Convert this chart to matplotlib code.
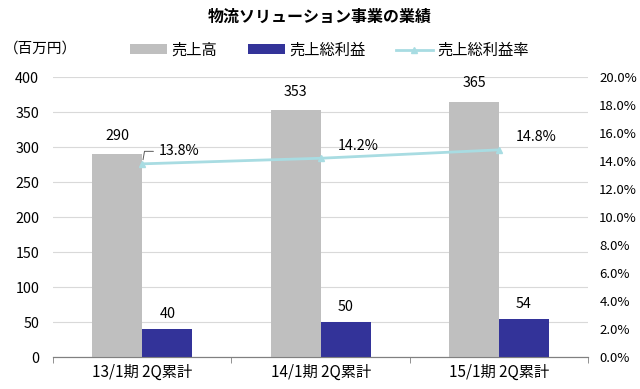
import matplotlib

matplotlib.use("Agg")
import matplotlib.pyplot as plt
import numpy as np

plt.rcParams["font.family"] = ["Noto Sans CJK JP", "DejaVu Sans"]

categories = ["13/1期 2Q累計", "14/1期 2Q累計", "15/1期 2Q累計"]
sales = [290, 353, 365]           # 売上高 (百万円)
gross_profit = [40, 50, 54]       # 売上総利益 (百万円)
margin_pct = [13.8, 14.2, 14.8]   # 売上総利益率 (%)

GRAY = "#BFBFBF"
NAVY = "#333399"
CYAN = "#A8DCE2"
FS = 10.3

fig = plt.figure(figsize=(6.4, 3.89), dpi=100)
ax = fig.add_axes([0.083, 0.082, 0.836, 0.720])
ax2 = ax.twinx()

x = np.arange(len(categories))
w = 0.28
b1 = ax.bar(x - w / 2, sales, w, color=GRAY, label="売上高", zorder=3)
b2 = ax.bar(x + w / 2, gross_profit, w, color=NAVY, label="売上総利益", zorder=3)

for xi, v in zip(x - w / 2, sales):
    ax.annotate(f"{v}", (xi, v), xytext=(0, 8), textcoords="offset points",
                ha="center", va="bottom", fontsize=FS)
for xi, v in zip(x + w / 2, gross_profit):
    ax.annotate(f"{v}", (xi, v), xytext=(0, 6), textcoords="offset points",
                ha="center", va="bottom", fontsize=FS)

ax.set_xlim(-0.5, len(categories) - 0.5)
ax.set_ylim(0, 400)
ax.set_yticks(np.arange(0, 401, 50))
ax.yaxis.grid(True, color="#D9D9D9", lw=0.8, zorder=0)
ax.set_axisbelow(True)
ax.set_xticks(x)
ax.set_xticklabels(categories, fontsize=11)
ax.set_xticks(np.arange(-0.5, len(categories), 1), minor=True)
ax.tick_params(axis="x", which="major", length=0, pad=5)
ax.tick_params(axis="x", which="minor", length=4, color="#808080")
ax.tick_params(axis="y", length=0, labelsize=FS, pad=10)

line, = ax2.plot(x, margin_pct, color=CYAN, lw=2, marker="^", ms=5,
                 label="売上総利益率", zorder=4)
ax2.set_ylim(0, 20)
ax2.set_yticks(np.arange(0, 20.1, 2))
ax2.set_yticklabels([f"{t:.1f}%" for t in np.arange(0, 20.1, 2)], fontsize=9.5)
ax2.tick_params(axis="y", length=0, pad=8)

for i, (xi, v) in enumerate(zip(x, margin_pct)):
    if i == 0:
        ax2.annotate(f"{v}%", (xi, v), xytext=(12, 9), textcoords="offset points",
                     ha="left", va="center", fontsize=FS,
                     arrowprops=dict(arrowstyle="-", color="#595959", lw=0.7,
                                     shrinkA=2, shrinkB=3, relpos=(0, 0.5),
                                     connectionstyle="angle,angleA=0,angleB=80"))
    else:
        ax2.annotate(f"{v}%", (xi, v), xytext=(12, 9), textcoords="offset points",
                     ha="left", va="center", fontsize=FS)

for a in (ax, ax2):
    for s in ("left", "right", "top"):
        a.spines[s].set_visible(False)
    a.spines["bottom"].set_color("#808080")

fig.text(0.5, 0.958, "物流ソリューション事業の業績", ha="center", va="center",
         fontsize=11.5, fontweight="bold")
fig.text(0.006, 0.875, "（百万円）", ha="left", va="center", fontsize=10.5)
fig.legend(handles=[b1, b2, line], loc="center", bbox_to_anchor=(0.515, 0.871),
           ncol=3, frameon=False, fontsize=11, handlelength=2.4,
           handleheight=0.6, columnspacing=2.0, handletextpad=0.3)

fig.savefig("out.png", dpi=100)
